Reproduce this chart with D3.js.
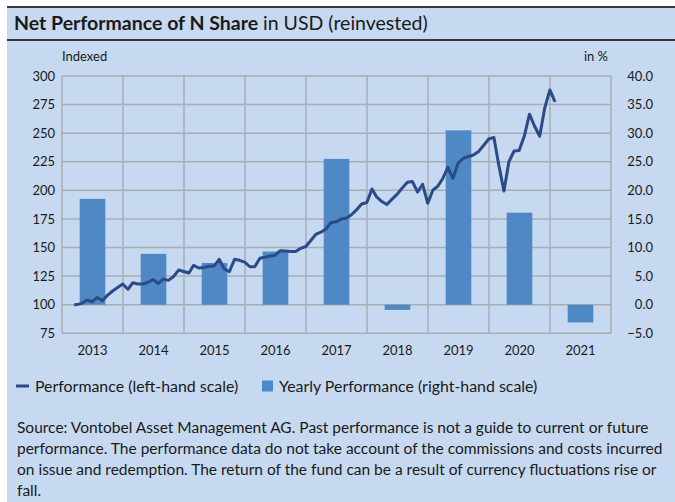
<!DOCTYPE html>
<html><head><meta charset="utf-8">
<script src="https://cdn.jsdelivr.net/npm/d3@7"></script>
<style>body{margin:0;background:#fff;} svg{display:block;font-family:Lato,"Open Sans",sans-serif;}</style>
</head><body><svg id="chart" width="675" height="502"></svg>
<script>
// ---------- DATA ----------
const years = ["2013","2014","2015","2016","2017","2018","2019","2020","2021"];
const yearlyPerf = [18.5, 8.9, 7.3, 9.3, 25.5, -0.9, 30.5, 16.1, -3.1];
const leftTicks = [75,100,125,150,175,200,225,250,275,300];
const rightTicks = [-5,0,5,10,15,20,25,30,35,40];
const lineDates = [
 "2013-03-15","2013-03-31","2013-04-30","2013-05-31","2013-06-30","2013-07-31","2013-08-31","2013-09-30","2013-10-31","2013-11-30","2013-12-31",
 "2014-01-31","2014-02-28","2014-03-31","2014-04-30","2014-05-31","2014-06-30","2014-07-31","2014-08-31","2014-09-30","2014-10-31","2014-11-30","2014-12-31",
 "2015-01-31","2015-02-28","2015-03-31","2015-04-30","2015-05-31","2015-06-30","2015-07-31","2015-08-31","2015-09-30","2015-10-31","2015-11-30","2015-12-31",
 "2016-01-31","2016-02-29","2016-03-31","2016-04-30","2016-05-31","2016-06-30","2016-07-31","2016-08-31","2016-09-30","2016-10-31","2016-11-30","2016-12-31",
 "2017-01-31","2017-02-28","2017-03-31","2017-04-30","2017-05-31","2017-06-30","2017-07-31","2017-08-31","2017-09-30","2017-10-31","2017-11-30","2017-12-31",
 "2018-01-31","2018-02-28","2018-03-31","2018-04-30","2018-05-31","2018-06-30","2018-07-31","2018-08-31","2018-09-30","2018-10-31","2018-11-30","2018-12-31",
 "2019-01-31","2019-02-28","2019-03-31","2019-04-30","2019-05-31","2019-06-30","2019-07-31","2019-08-31","2019-09-30","2019-10-31","2019-11-30","2019-12-31",
 "2020-01-31","2020-02-29","2020-03-31","2020-04-30","2020-05-31","2020-06-30","2020-07-31","2020-08-31","2020-09-30","2020-10-31","2020-11-30","2020-12-31",
 "2021-01-31"
];
const lineValues = [
 100.0,100.1,101.2,104.1,102.6,106.3,103.5,108.2,112.0,115.0,118.1,
 113.5,119.2,118.1,118.1,119.6,122.0,118.5,122.5,121.3,124.7,130.3,129.0,
 127.7,134.5,132.1,132.5,133.6,133.8,139.7,131.2,128.9,139.7,138.8,137.3,
 133.2,133.2,140.6,141.5,142.6,143.3,147.2,147.0,146.5,146.5,149.3,150.9,
 156.4,161.4,163.4,166.2,171.9,172.5,174.9,175.8,178.7,183.1,188.1,189.4,
 201.2,194.2,190.2,187.6,192.3,196.5,202.1,207.0,207.7,198.6,205.3,188.7,
 200.3,203.5,210.4,220.0,210.5,223.7,228.0,229.6,230.9,234.0,239.2,244.9,
 246.2,222.2,199.4,225.2,234.4,234.8,247.5,266.6,256.3,247.3,271.8,287.8,
 277.3
];
const titleBold = "Net Performance of N Share";
const titleRest = " in USD (reinvested)";
const leftAxisTitle = "Indexed";
const rightAxisTitle = "in %";
const legendLine = "Performance (left-hand scale)";
const legendBar = "Yearly Performance (right-hand scale)";
const sourceLines = [
 "Source: Vontobel Asset Management AG. Past performance is not a guide to current or future",
 "performance. The performance data do not take account of the commissions and costs incurred",
 "on issue and redemption. The return of the fund can be a result of currency fluctuations rise or",
 "fall."
];

// ---------- STYLE / LAYOUT ----------
const bg = "#c6d9f0", barColor = "#4f89c5", lineColor = "#2b4b88", gridColor = "#a8adb3", textColor = "#1a1a1a";
const plot = {left: 62, right: 611, top: 76, bottom: 333.3};

const svg = d3.select("#chart");
svg.append("rect").attr("x",0).attr("y",0).attr("width",675).attr("height",502).attr("fill","#fff");
svg.append("rect").attr("x",7).attr("y",7).attr("width",668).attr("height",495).attr("fill",bg);
svg.append("line").attr("x1",7).attr("x2",675).attr("y1",7).attr("y2",7).attr("stroke","#3a3a3a").attr("stroke-width",2);
svg.append("line").attr("x1",7).attr("x2",675).attr("y1",40).attr("y2",40).attr("stroke","#3a3a3a").attr("stroke-width",2);

const title = svg.append("text").attr("x",14).attr("y",29.5).attr("font-size",19.5).attr("fill",textColor);
title.append("tspan").attr("font-weight","bold").text(titleBold);
title.append("tspan").text(titleRest);

// scales
const xBand = d3.scaleBand().domain(years).range([plot.left, plot.right]).padding(0);
const xBar = d3.scaleBand().domain(years).range([plot.left, plot.right]).paddingInner(0.58).paddingOuter(0.29);
const yLeft = d3.scaleLinear().domain([75,300]).range([plot.bottom, plot.top]);
const yRight = d3.scaleLinear().domain([-5,40]).range([plot.bottom, plot.top]);
const xTime = d3.scaleTime().domain([new Date(2013,0,1), new Date(2022,0,1)]).range([plot.left, plot.right]);

// grid
const g = svg.append("g");
g.selectAll(".hg").data(leftTicks).join("line")
  .attr("x1",plot.left).attr("x2",plot.right)
  .attr("y1",d=>yLeft(d)).attr("y2",d=>yLeft(d))
  .attr("stroke",gridColor).attr("stroke-width",1.5);
const vlines = years.map(y=>xBand(y)).concat([plot.right]);
g.selectAll(".vg").data(vlines).join("line")
  .attr("x1",d=>d).attr("x2",d=>d)
  .attr("y1",plot.top).attr("y2",plot.bottom)
  .attr("stroke",gridColor).attr("stroke-width",1.5);

// bars
svg.append("g").selectAll("rect").data(years).join("rect")
  .attr("x",d=>xBar(d)).attr("width",xBar.bandwidth())
  .attr("y",(d,i)=>yRight(Math.max(0,yearlyPerf[i])))
  .attr("height",(d,i)=>Math.abs(yRight(yearlyPerf[i])-yRight(0)))
  .attr("fill",barColor);

// line
const parse = d3.timeParse("%Y-%m-%d");
const lineData = lineDates.map((d,i)=>({date: parse(d), v: lineValues[i]}));
svg.append("path").datum(lineData)
  .attr("d", d3.line().x(d=>xTime(d.date)).y(d=>yLeft(d.v)))
  .attr("fill","none").attr("stroke",lineColor).attr("stroke-width",3).attr("stroke-linejoin","round");

// axes labels
const leftAxis = d3.axisLeft(yLeft).tickValues(leftTicks).tickSize(0).tickPadding(7);
const la = svg.append("g").attr("transform",`translate(${plot.left},0)`).call(leftAxis);
la.select(".domain").remove();
la.selectAll("text").attr("font-size",13).attr("font-family","Lato").attr("fill",textColor);

const rightAxis = d3.axisRight(yRight).tickValues(rightTicks).tickSize(0).tickFormat(d3.format(".1f"));
const ra = svg.append("g").attr("transform",`translate(653,0)`).call(rightAxis);
ra.select(".domain").remove();
ra.selectAll("text").attr("font-size",13).attr("font-family","Lato").attr("fill",textColor).attr("text-anchor","end").attr("x",0);

const bottomAxis = d3.axisBottom(xBand).tickSize(0).tickPadding(12);
const ba = svg.append("g").attr("transform",`translate(0,${plot.bottom})`).call(bottomAxis);
ba.select(".domain").remove();
ba.selectAll("text").attr("font-size",13).attr("font-family","Lato").attr("fill",textColor);

svg.append("text").attr("x",62).attr("y",61).attr("font-size",13).attr("fill",textColor).text(leftAxisTitle);
svg.append("text").attr("x",608).attr("y",61).attr("text-anchor","end").attr("font-size",13).attr("fill",textColor).text(rightAxisTitle);

// legend
svg.append("line").attr("x1",16).attr("x2",29).attr("y1",386).attr("y2",386).attr("stroke",lineColor).attr("stroke-width",3);
svg.append("text").attr("x",35).attr("y",391.5).attr("font-size",15.9).attr("fill",textColor).text(legendLine);
svg.append("rect").attr("x",262).attr("y",380.5).attr("width",11).attr("height",11).attr("fill",barColor);
svg.append("text").attr("x",279).attr("y",391.5).attr("font-size",15.9).attr("fill",textColor).text(legendBar);

// source: fit the widest line to the reference text width (17 -> ~663)
const src = svg.append("g").selectAll("text").data(sourceLines).join("text")
  .attr("x",17).attr("y",(d,i)=>432.5+i*21).attr("font-size",16).attr("fill",textColor).text(d=>d);
const wMax = d3.max(src.nodes(), n => n.getComputedTextLength());
const fs = Math.min(16.4, 16 * 646 / wMax);
src.attr("font-size", fs);
</script></body></html>
